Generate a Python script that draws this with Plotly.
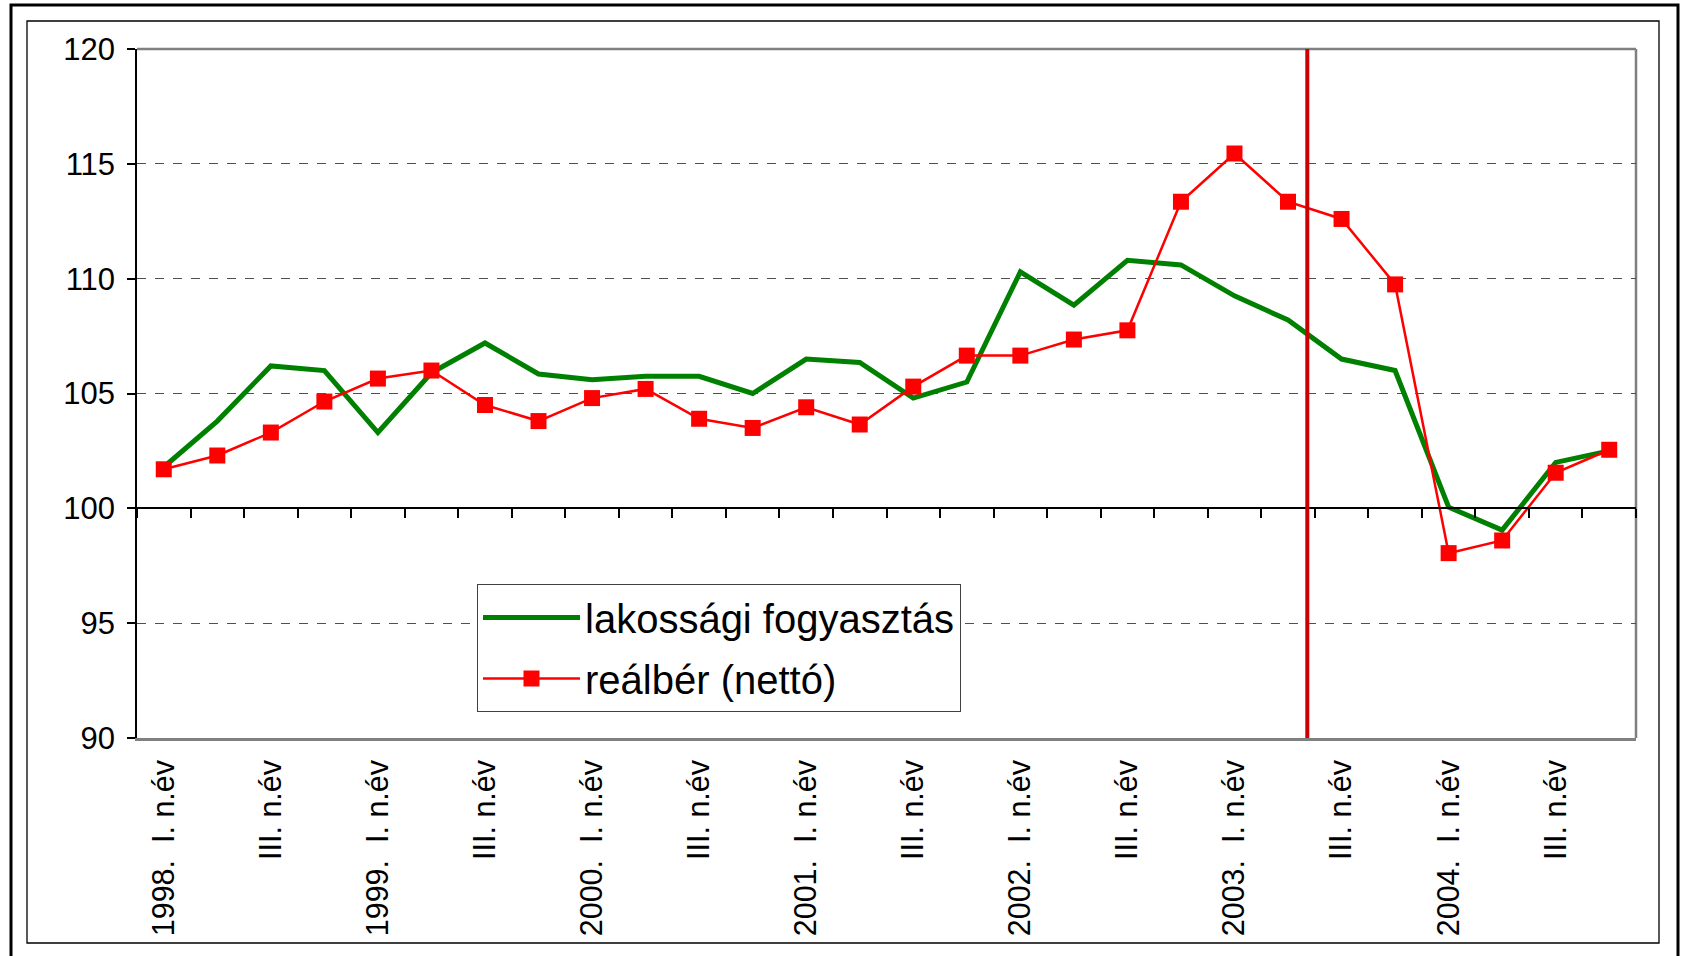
import plotly.graph_objects as go

# ---------------- data ----------------
years = ["1998", "1999", "2000", "2001", "2002", "2003", "2004"]
quarters = ["I", "II", "III", "IV"]
categories = [f"{y}. {q}. n.év" for y in years for q in quarters]

lakossagi_fogyasztas = [101.8, 103.8, 106.2, 106.0, 103.3, 105.9, 107.2, 105.85,
                        105.6, 105.75, 105.75, 105.0, 106.5, 106.35, 104.8, 105.5,
                        110.3, 108.85, 110.8, 110.6, 109.25, 108.2, 106.5, 106.0,
                        100.05, 99.05, 102.0, 102.5]

realber_netto = [101.7, 102.3, 103.3, 104.65, 105.65, 106.0, 104.5, 103.8,
                 104.8, 105.2, 103.9, 103.5, 104.4, 103.65, 105.3, 106.65,
                 106.65, 107.35, 107.75, 113.35, 115.45, 113.35, 112.6, 109.75,
                 98.05, 98.6, 101.55, 102.55]

tick_categories = categories[0::2]
tick_labels = [("%s.\u00a0\u00a0I. n.év" % c.split(".")[0]) if ". I. " in c else "III. n.év"
               for c in tick_categories]

event_position = 21.36   # vertical marker (category index units)

y_ticks = [90, 95, 100, 105, 110, 115, 120]

# ---------------- layout geometry ----------------
W, H = 1681, 956
PL, PR, PT, PB = 137, 1636, 49, 738


def pxx(px):
    return (px - PL) / (PR - PL)


def pxy(py):
    return (PB - py) / (PB - PT)


FONT = "Liberation Sans, Arial, sans-serif"

fig = go.Figure()

fig.add_trace(go.Scatter(
    x=categories, y=lakossagi_fogyasztas, name="lakossági fogyasztás",
    mode="lines", line=dict(color="#008000", width=5),
    legendgroup="a", xaxis="x",
))
fig.add_trace(go.Scatter(
    x=categories, y=realber_netto, name="reálbér (nettó)",
    mode="lines+markers", line=dict(color="#FF0000", width=2.5),
    marker=dict(symbol="square", size=16, color="#FF0000", line=dict(width=0)),
    legendgroup="b", xaxis="x2",
))

shapes = [
    # plot area frame (gray) top/right
    dict(type="line", xref="paper", yref="paper", x0=0, x1=1, y0=1, y1=1,
         line=dict(color="#808080", width=2.5), layer="below"),
    dict(type="line", xref="paper", yref="paper", x0=1, x1=1, y0=0, y1=1,
         line=dict(color="#808080", width=2.5), layer="below"),
    # vertical marker
    dict(type="line", xref="x", yref="paper", x0=event_position, x1=event_position,
         y0=0, y1=1, line=dict(color="#CC0000", width=4), layer="above"),
    # inner chart frame
    dict(type="rect", xref="paper", yref="paper",
         x0=pxx(27), x1=pxx(1659), y0=pxy(943), y1=pxy(21),
         line=dict(color="black", width=1.3), layer="below"),
    # outer frame
    dict(type="rect", xref="paper", yref="paper",
         x0=pxx(11), x1=pxx(1678), y0=pxy(965), y1=pxy(5),
         line=dict(color="black", width=3), layer="below"),
]

fig.update_layout(
    width=W, height=H,
    margin=dict(l=PL, r=W - PR, t=PT, b=H - PB, pad=0),
    paper_bgcolor="white", plot_bgcolor="white",
    font=dict(family=FONT, size=30, color="black"),
    showlegend=True,
    legend=dict(
        x=pxx(477), y=pxy(584), xanchor="left", yanchor="top",
        bgcolor="white", bordercolor="#404040", borderwidth=1,
        font=dict(family=FONT, size=40, color="black"),
        itemwidth=97, tracegroupgap=6, traceorder="grouped",
    ),
    xaxis=dict(
        type="category", categoryorder="array", categoryarray=categories,
        range=[-0.5, len(categories) - 0.5],
        tickmode="array", tickvals=tick_categories, ticktext=tick_labels,
        tickangle=-90, ticks="", showgrid=False, zeroline=False,
        showline=True, linecolor="#808080", linewidth=2.5,
        ticklabelstandoff=7,
        tickfont=dict(family=FONT, size=30.5, color="black"),
    ),
    xaxis2=dict(
        type="category", categoryorder="array", categoryarray=categories,
        range=[-0.5, len(categories) - 0.5],
        overlaying="x", anchor="free", position=(100 - 90) / (120 - 90),
        side="bottom", tickson="boundaries", ticks="outside", ticklen=9,
        tickcolor="black", tickwidth=1.5, showticklabels=False,
        showline=True, linecolor="black", linewidth=1.5,
        showgrid=False, zeroline=False,
    ),
    yaxis=dict(
        range=[90, 120], tickmode="array", tickvals=y_ticks,
        ticks="outside", ticklen=8, tickcolor="black", tickwidth=1.5,
        showline=True, linecolor="black", linewidth=1.5,
        showgrid=True, gridcolor="#505050", gridwidth=1.2, griddash="dash",
        zeroline=False, ticklabelstandoff=6,
        tickfont=dict(family=FONT, size=31, color="black"),
    ),
    shapes=shapes,
)

fig.write_html("out.html", config={"displayModeBar": False},
               post_script="document.body.style.margin='0';")
